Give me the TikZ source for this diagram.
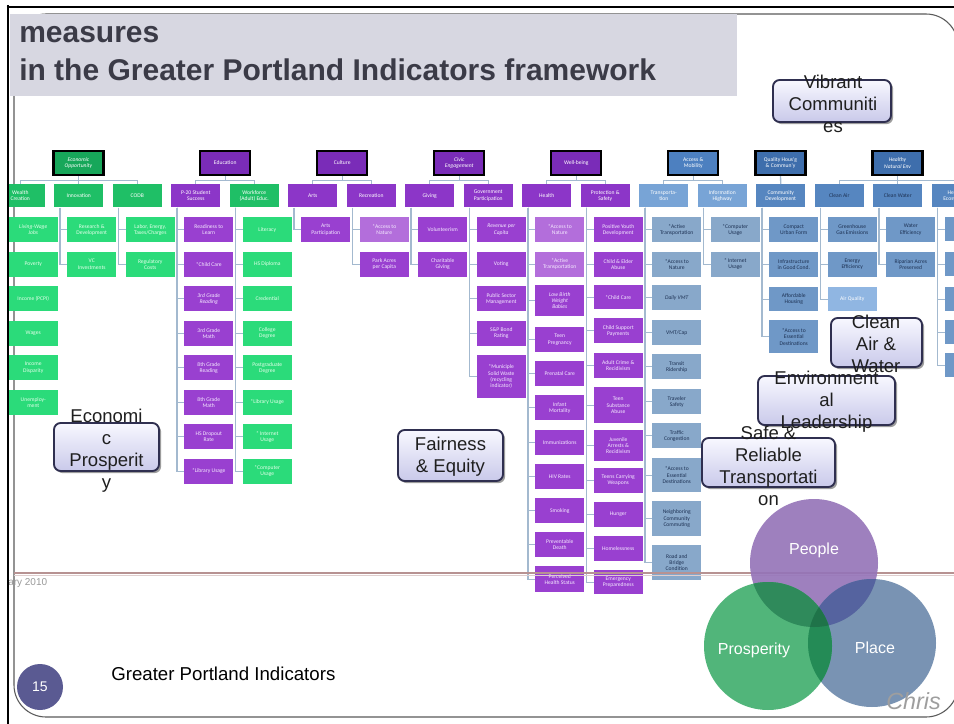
\documentclass[tikz,border=0pt]{standalone}
\usepackage{fontspec}
\setmainfont{Liberation Sans}
\newfontfamily\chartfont{Carlito}
\usetikzlibrary{shadows}

\definecolor{titleBg}{HTML}{D7D7E1}
\definecolor{titleTx}{HTML}{3B3B47}
\definecolor{frameC}{HTML}{5A5A5A}
\definecolor{connC}{HTML}{A3B9CF}
\definecolor{gHdr}{HTML}{17A75A}
\definecolor{gSub}{HTML}{1FBF66}
\definecolor{gLeaf}{HTML}{2BDB7A}
\definecolor{gTxt}{HTML}{E4FFEA}
\definecolor{pHdr}{HTML}{7A2CB8}
\definecolor{pSub}{HTML}{8C36C8}
\definecolor{pLeaf}{HTML}{9940D0}
\definecolor{pLight}{HTML}{B36EDB}
\definecolor{pTxt}{HTML}{F5EAFF}
\definecolor{aHdr}{HTML}{4D80C0}
\definecolor{aSub}{HTML}{78A4D6}
\definecolor{aLeaf}{HTML}{88A8CA}
\definecolor{qHdr}{HTML}{3E6EAC}
\definecolor{qSub}{HTML}{5686C0}
\definecolor{qLeaf}{HTML}{6F98C7}
\definecolor{qLight}{HTML}{90B6E2}
\definecolor{bTxt}{HTML}{1E3254}
\definecolor{lblBorder}{HTML}{2F2F50}
\definecolor{lblBot}{HTML}{C9C9EA}
\definecolor{lblTop}{HTML}{F8F8FF}
\definecolor{brownLine}{HTML}{B79292}
\definecolor{peopleC}{HTML}{9473B8}
\definecolor{placeC}{HTML}{6B88AB}
\definecolor{prosC}{HTML}{3FAE6C}
\definecolor{ppC}{HTML}{2F8A5B}
\definecolor{plC}{HTML}{55639F}
\definecolor{prplC}{HTML}{248B56}
\definecolor{triC}{HTML}{1F7349}
\definecolor{numC}{HTML}{5A5A92}

\newcommand\leafcol[4]{%
  \foreach \yy/\hh/\fc/\ltxt [count=\i] in {#4}{%
    \node[leaf,#3,fill=\fc,minimum height={\hh*0.75pt}] (#1L\i) at (#2,\yy) {\ltxt};
    \draw[conn] ([xshift=4.5pt]#1.south west) |- (#1L\i.west);
  }}

\begin{document}
\begin{tikzpicture}[x=0.75pt,y=-0.75pt,
  chart/.style={font=\chartfont\fontsize{4.2}{4.7}\selectfont},
  hdr/.style={chart,rectangle,inner sep=0pt,align=center,minimum width=37.5pt,minimum height=18pt,draw=black,line width=1.6pt,text=white},
  sub/.style={chart,rectangle,inner sep=0pt,align=center,minimum width=36.75pt,minimum height=17.25pt,text=white,anchor=north west},
  leaf/.style={chart,rectangle,inner sep=0pt,align=center,minimum width=36.75pt,anchor=north west},
  gCol/.style={text=gTxt},
  pCol/.style={text=pTxt},
  bCol/.style={text=bTxt},
  conn/.style={draw=connC,line width=1pt},
  lbl/.style={rectangle,rounded corners=5pt,draw=lblBorder,line width=1.4pt,top color=lblTop,bottom color=lblBot,inner sep=0pt,
     drop shadow={shadow xshift=1.6pt,shadow yshift=-1.6pt,opacity=0.55,fill=black!70}},
  lbltxt/.style={align=center,inner sep=0pt,text=black!88,font=\fontsize{13.9}{16.5}\selectfont},
  venn/.style={circle,inner sep=0pt,minimum size=96pt,fill opacity=0.9},
  venntxt/.style={text=white,font=\fontsize{12}{14}\selectfont}
]
\useasboundingbox (0,0) rectangle (954,724);
\fill[white] (0,0) rectangle (954,724);

% slide frame
\draw[frameC,line width=0.8pt,rounded corners=24pt] (14,14) rectangle (958,717);

% title
\fill[titleBg] (10,14) rectangle (737,96);
\node[anchor=base west,inner sep=0pt,text=titleTx,font=\bfseries\fontsize{22.5}{26}\selectfont] (t1) at (19,43) {measures};
\node[anchor=base west,inner sep=0pt,text=titleTx,font=\bfseries\fontsize{22.5}{26}\selectfont] (t2) at (19,81) {in the Greater Portland Indicators framework};

% ---------------- headers
\node[hdr,fill=gHdr] (hEcon) at (78.5,163) {\itshape Economic\\\itshape Opportunity};
\node[hdr,fill=pHdr] (hEdu) at (225.25,163) {Education};
\node[hdr,fill=pHdr] (hCul) at (342.25,163) {Culture};
\node[hdr,fill=pHdr] (hCiv) at (459.25,163) {\itshape Civic\\\itshape Engagement};
\node[hdr,fill=pHdr] (hWell) at (576.25,163) {Well-being};
\node[hdr,fill=aHdr] (hAcc) at (693.25,163) {Access \&\\Mobility};
\node[hdr,fill=qHdr] (hQual) at (780.5,163) {Quality Hous'g\\\& Commun'y};
\node[hdr,fill=qHdr] (hNat) at (897.5,163) {\itshape Healthy\\\itshape Natural Env};

% ---------------- sub level
\node[sub,fill=gSub] (sWC) at (-4.5,184) {Wealth\\Creation};
\node[sub,fill=gSub] (sInn) at (54,184) {Innovation};
\node[sub,fill=gSub] (sCODB) at (112.5,184) {CODB};
\node[sub,fill=pSub] (sP20) at (171,184) {P-20 Student\\Success};
\node[sub,fill=gSub] (sWF) at (229.5,184) {Workforce\\(Adult) Educ.};
\node[sub,fill=pSub] (sArts) at (288,184) {Arts};
\node[sub,fill=pSub] (sRec) at (346.5,184) {Recreation};
\node[sub,fill=pSub] (sGiv) at (405,184) {Giving};
\node[sub,fill=pSub] (sGov) at (463.5,184) {Government\\Participation};
\node[sub,fill=pSub] (sHealth) at (522,184) {Health};
\node[sub,fill=pSub] (sProt) at (580.5,184) {Protection \&\\Safety};
\node[sub,fill=aSub] (sTrans) at (639,184) {Transporta-\\tion};
\node[sub,fill=aSub] (sInfo) at (697.5,184) {Information\\Highway};
\node[sub,fill=qSub] (sCD) at (756,184) {Community\\Development};
\node[sub,fill=qSub,text=bTxt] (sCA) at (814.5,184) {Clean Air};
\node[sub,fill=qSub,text=bTxt] (sCW) at (873,184) {Clean Water};
\node[sub,fill=qSub] (sHE) at (931.5,184) {Healthy\\Ecosystems};

% tree connectors
\foreach \s in {sWC,sInn,sCODB} \draw[conn] (hEcon.south) -- ++(0,4.5) -| (\s.north);
\foreach \s in {sP20,sWF} \draw[conn] (hEdu.south) -- ++(0,4.5) -| (\s.north);
\foreach \s in {sArts,sRec} \draw[conn] (hCul.south) -- ++(0,4.5) -| (\s.north);
\foreach \s in {sGiv,sGov} \draw[conn] (hCiv.south) -- ++(0,4.5) -| (\s.north);
\foreach \s in {sHealth,sProt} \draw[conn] (hWell.south) -- ++(0,4.5) -| (\s.north);
\foreach \s in {sTrans,sInfo} \draw[conn] (hAcc.south) -- ++(0,4.5) -| (\s.north);
\draw[conn] (hQual.south) -- (sCD.north);
\foreach \s in {sCA,sCW,sHE} \draw[conn] (hNat.south) -- ++(0,4.5) -| (\s.north);

% ---------------- leaves
\leafcol{sWC}{8.5}{gCol}{217/25/gLeaf/{\itshape Living-Wage\\\itshape Jobs}, 251.5/25/gLeaf/Poverty, 286/25/gLeaf/{Income (PCPI)}, 320.5/25/gLeaf/Wages, 355/25/gLeaf/{Income\\Disparity}, 389.5/25/gLeaf/{Unemploy-\\ment}}
\leafcol{sInn}{67}{gCol}{217/25/gLeaf/{Research \&\\Development}, 251.5/25/gLeaf/{VC\\Investments}}
\leafcol{sCODB}{125.5}{gCol}{217/25/gLeaf/{Labor, Energy,\\Taxes/Charges}, 251.5/25/gLeaf/{Regulatory\\Costs}}
\leafcol{sP20}{184}{pCol}{217/25/pLeaf/{Readiness to\\Learn}, 251.5/25/pLeaf/{*Child Care}, 286/25/pLeaf/{\itshape 3rd Grade\\\itshape Reading}, 320.5/25/pLeaf/{3rd Grade\\Math}, 355/25/pLeaf/{8th Grade\\Reading}, 389.5/25/pLeaf/{8th Grade\\Math}, 424/25/pLeaf/{HS Dropout\\Rate}, 458.5/25/pLeaf/{*Library Usage}}
\leafcol{sWF}{242.5}{gCol}{217/25/gLeaf/Literacy, 251.5/25/gLeaf/{HS Diploma}, 286/25/gLeaf/Credential, 320.5/25/gLeaf/{College\\Degree}, 355/25/gLeaf/{Postgraduate\\Degree}, 389.5/25/gLeaf/{*Library Usage}, 424/25/gLeaf/{* Internet\\Usage}, 458.5/25/gLeaf/{*Computer\\Usage}}
\leafcol{sArts}{301}{pCol}{217/25/pLeaf/{Arts\\Participation}}
\leafcol{sRec}{359.5}{pCol}{217/25/pLight/{*Access to\\Nature}, 251.5/25/pLeaf/{Park Acres\\per Capita}}
\leafcol{sGiv}{418}{pCol}{217/25/pLeaf/Volunteerism, 251.5/25/pLeaf/{Charitable\\Giving}}
\leafcol{sGov}{476.5}{pCol}{217/25/pLeaf/{\itshape Revenue per\\\itshape Capita}, 251.5/25/pLeaf/Voting, 286/25/pLeaf/{Public Sector\\Management}, 320.5/25/pLeaf/{S\&P Bond\\Rating}, 355/43/pLeaf/{*Municiple\\Solid Waste\\(recycling\\indicator)}}
\leafcol{sHealth}{535}{pCol}{217/25/pLight/{*Access to\\Nature}, 251.5/25/pLight/{*Active\\Transportation}, 285/31/pLeaf/{\itshape Low Birth\\\itshape Weight\\\itshape Babies}, 327/25/pLeaf/{Teen\\Pregnancy}, 361/25/pLeaf/{Prenatal Care}, 395/25/pLeaf/{Infant\\Mortality}, 429.5/25/pLeaf/Immunizations, 464/25/pLeaf/{HIV Rates}, 498/25/pLeaf/Smoking, 532/25/pLeaf/{Preventable\\Death}, 566/26/pLeaf/{Perceived\\Health Status}}
\leafcol{sProt}{593.5}{pCol}{217/25/pLeaf/{Positive Youth\\Development}, 251.5/25/pLeaf/{Child \& Elder\\Abuse}, 285/24/pLeaf/{*Child Care}, 318/25/pLeaf/{Child Support\\Payments}, 353/25/pLeaf/{Adult Crime \&\\Recidivism}, 387/36/pLeaf/{Teen\\Substance\\Abuse}, 430/31/pLeaf/{Juvenile\\Arrests \&\\Recidivism}, 467.5/25/pLeaf/{Teens Carrying\\Weapons}, 501.5/25/pLeaf/Hunger, 536/25/pLeaf/Homelessness, 570/24/pLeaf/{Emergency\\Preparedness}}
\leafcol{sTrans}{652}{bCol}{217/25/aLeaf/{*Active\\Transportation}, 251.5/25/aLeaf/{*Access to\\Nature}, 285/25/aLeaf/{\itshape Daily VMT}, 320/25/aLeaf/{VMT/Cap}, 354/25/aLeaf/{Transit\\Ridership}, 389/25/aLeaf/{Traveler\\Safety}, 423/25/aLeaf/{Traffic\\Congestion}, 458/34/aLeaf/{*Access to\\Essential\\Destinations}, 501/35/aLeaf/{Neighboring\\Community\\Commuting}, 545/35/aLeaf/{Road and\\Bridge\\Condition}}
\leafcol{sInfo}{710.5}{bCol}{217/25/aLeaf/{*Computer\\Usage}, 251.5/25/aLeaf/{* Internet\\Usage}}
\leafcol{sCD}{769}{bCol}{217/25/qLeaf/{Compact\\Urban Form}, 251.5/25/qLeaf/{Infrastructure\\in Good Cond.}, 287/24/qLeaf/{Affordable\\Housing}, 320/33/qLeaf/{*Access to\\Essential\\Destinations}}
\leafcol{sCA}{827.5}{bCol}{217/25/qLeaf/{Greenhouse\\Gas Emissions}, 251.5/25/qLeaf/{Energy\\Efficiency}, 287/24/qLight/{\color{white}Air Quality}}
\leafcol{sCW}{886}{bCol}{217/25/qLeaf/{Water\\Efficiency}, 251.5/25/qLeaf/{Riparian Acres\\Preserved}}
\leafcol{sHE}{944.5}{bCol}{217/24/qLeaf/{}, 252/24/qLeaf/{}, 287/24/qLeaf/{}, 320/24/qLeaf/{}, 353/24/qLeaf/{}}

% ---------------- brown rule
\draw[brownLine!45,line width=1pt] (14,575.5) -- (954,575.5);
\draw[brownLine,line width=1.5pt] (14,573) -- (954,573);

% ---------------- overlay labels
\node[lbl,minimum width=88.5pt,minimum height=31.5pt] (vibBox) at (832,101) {};
\node[lbltxt] (vibTxt) at (833,104) {Vibrant\\Communiti\\es};
\node[lbl,minimum width=78.75pt,minimum height=36pt] (ecoBox) at (106.5,447) {};
\node[lbltxt] (ecoTxt) at (106.5,451) {Economi\\c\\Prosperit\\y};
\node[lbl,minimum width=78.75pt,minimum height=38.25pt] (fairBox) at (450.5,455.5) {};
\node[lbltxt] (fairTxt) at (450.5,456.5) {Fairness\\\& Equity};
\node[lbl,minimum width=68.25pt,minimum height=36.75pt] (cawBox) at (876.5,342.5) {};
\node[lbltxt] (cawTxt) at (876,344) {Clean\\Air \&\\Water};
\node[lbl,minimum width=102.75pt,minimum height=36.75pt] (envBox) at (826.5,400.5) {};
\node[lbltxt] (envTxt) at (826.5,402) {Environment\\al\\Leadership};
\node[lbl,minimum width=99.75pt,minimum height=36.75pt] (safeBox) at (768.5,462.5) {};
\node[lbltxt] (safeTxt) at (768.5,465.5) {Safe \&\\Reliable\\Transportati\\on};

% ---------------- Venn
\node[venn,fill=peopleC] (people) at (814,563) {};
\node[venn,fill=placeC] (place) at (872,643) {};
\node[venn,fill=prosC] (pros) at (768,646) {};
\begin{scope}
  \clip (814,563) circle[radius=48pt];
  \fill[plC] (872,643) circle[radius=48pt];
  \fill[ppC] (768,646) circle[radius=48pt];
\end{scope}
\begin{scope}
  \clip (872,643) circle[radius=48pt];
  \fill[prplC] (768,646) circle[radius=48pt];
  \clip (814,563) circle[radius=48pt];
  \fill[triC] (768,646) circle[radius=48pt];
\end{scope}
\node[venntxt] (peopleTxt) at (814,550) {People};
\node[venntxt] (prosTxt) at (754,650) {Prosperity};
\node[venntxt] (placeTxt) at (875,648) {Place};

% ---------------- footer
\node[anchor=west,inner sep=0pt,text=black!40,font=\fontsize{7.5}{9}\selectfont] (date) at (8,583) {ary 2010};
\node[circle,fill=numC,minimum size=34.5pt,inner sep=0pt,text=white,font=\fontsize{10.5}{12}\selectfont] (pgnum) at (40,687) {15};
\node[anchor=west,inner sep=0pt,font=\fontsize{14}{16}\selectfont] (footer) at (111,674) {Greater Portland Indicators};
\node[anchor=west,inner sep=0pt,text=black!38,font=\itshape\fontsize{17.5}{20}\selectfont] (chris) at (886,701) {Chris};

% ---------------- outer black border
\fill[white] (0,0) rectangle (6.5,724);
\draw[black,line width=2.2pt] (6.5,7) -- (954,7);
\draw[black,line width=2.2pt] (8,5.5) -- (8,724);
\end{tikzpicture}
\end{document}
